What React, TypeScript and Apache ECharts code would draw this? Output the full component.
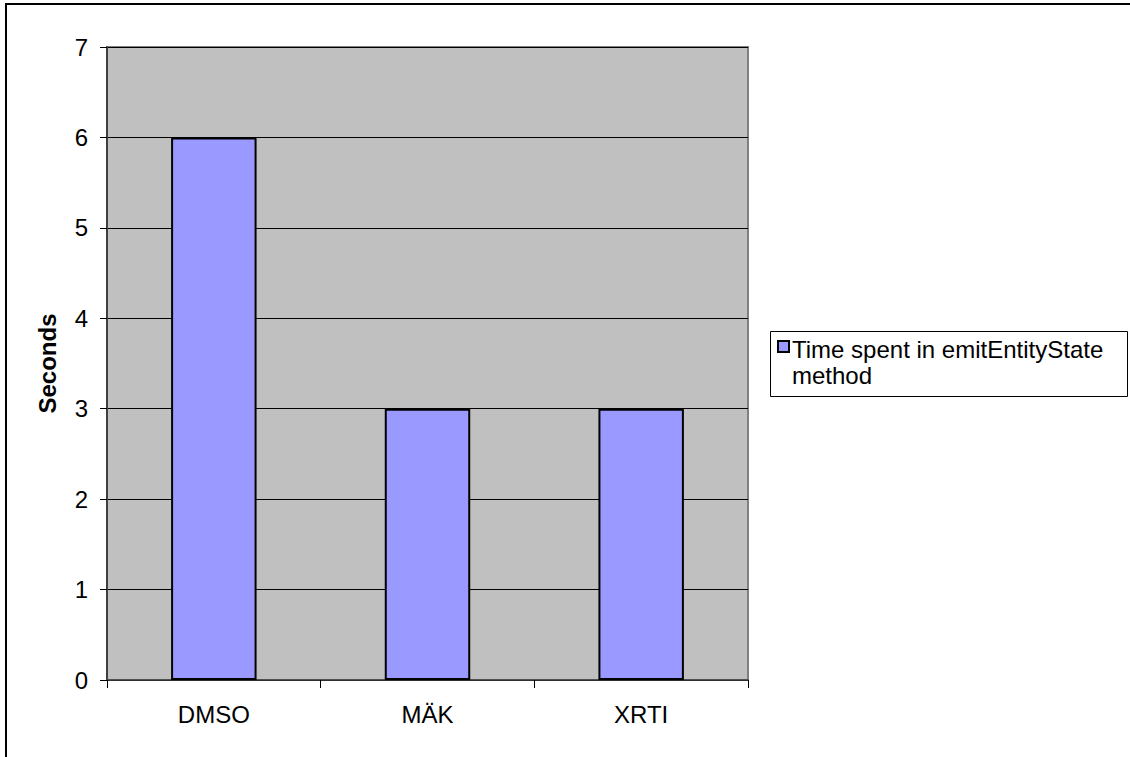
import React, { useEffect, useRef } from "react";
import * as echarts from "echarts";

const categories = ["DMSO", "MÄK", "XRTI"];
const seriesName = "Time spent in emitEntityState method";
const legendLines = ["Time spent in emitEntityState", "method"];
const values = [6, 3, 3];
const yTicks = [0, 1, 2, 3, 4, 5, 6, 7];
const yAxisTitle = "Seconds";

const FONT = "'Liberation Sans', Arial, sans-serif";

export default function App() {
  const ref = useRef<HTMLDivElement>(null);
  useEffect(() => {
    if (!ref.current) return;
    const chart = echarts.init(ref.current, null, { renderer: "svg" });
    chart.setOption({
      animation: false,
      backgroundColor: "#ffffff",
      textStyle: { fontFamily: FONT },
      grid: {
        left: 107,
        top: 47,
        right: 382,
        bottom: 77,
        show: true,
        backgroundColor: "#C0C0C0",
        borderColor: "#808080",
        borderWidth: 2,
      },
      xAxis: {
        type: "category",
        data: categories,
        boundaryGap: true,
        axisLine: { show: true, lineStyle: { color: "#404040", width: 1.5 } },
        axisTick: { show: true, length: 8, lineStyle: { color: "#000" }, alignWithLabel: false },
        axisLabel: { color: "#000", fontSize: 24, fontFamily: FONT, margin: 22 },
        splitLine: { show: false },
      },
      yAxis: {
        type: "value",
        min: yTicks[0],
        max: yTicks[yTicks.length - 1],
        interval: 1,
        name: yAxisTitle,
        nameLocation: "middle",
        nameGap: 48,
        nameTextStyle: { color: "#000", fontSize: 24, fontWeight: "bold", fontFamily: FONT },
        axisLine: { show: true, lineStyle: { color: "#404040", width: 2 } },
        axisTick: { show: true, length: 7, lineStyle: { color: "#000" } },
        axisLabel: { color: "#000", fontSize: 24, fontFamily: FONT, margin: 19 },
        splitLine: { show: true, lineStyle: { color: "#000", width: 1 } },
      },
      series: [
        {
          name: seriesName,
          type: "bar",
          data: values,
          barWidth: "40%",
          itemStyle: { color: "#9999FF", borderColor: "#000", borderWidth: 2 },
        },
      ],
      graphic: [
        { type: "rect", shape: { x: 6, y: 4, width: 1200, height: 900 }, style: { fill: "none", stroke: "#000", lineWidth: 2 }, silent: true },
        { type: "rect", shape: { x: 770.5, y: 331.5, width: 357, height: 65 }, style: { fill: "#fff", stroke: "#000", lineWidth: 1 } },
        { type: "rect", shape: { x: 778, y: 341, width: 11, height: 11 }, style: { fill: "#9999FF", stroke: "#000", lineWidth: 2 } },
        {
          type: "text",
          x: 792,
          y: 336.5,
          style: {
            text: legendLines.join("\n"),
            font: `24px ${FONT}`,
            fill: "#000",
            lineHeight: 26,
            verticalAlign: "top",
            align: "left",
          },
        },
      ],
    });
    return () => chart.dispose();
  }, []);
  return <div ref={ref} style={{ position: "absolute", left: 0, top: 0, width: 1130, height: 757 }} />;
}
